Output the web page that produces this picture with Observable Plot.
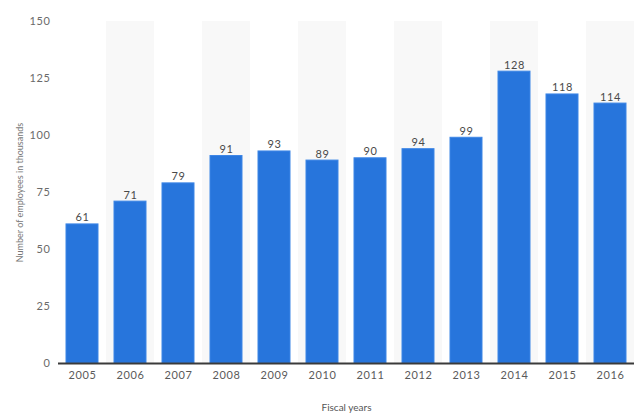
<!DOCTYPE html>
<html>
<head>
<meta charset="utf-8">
<script src="https://cdn.jsdelivr.net/npm/d3@7"></script>
<script src="https://cdn.jsdelivr.net/npm/@observablehq/plot@0.6"></script>
<style>
  html, body { margin: 0; padding: 0; background: #fff; }
  #chart svg { display: block; }
</style>
</head>
<body>
<div id="chart"></div>
<script>
const years = ["2005","2006","2007","2008","2009","2010","2011","2012","2013","2014","2015","2016"];
const employees = [61, 71, 79, 91, 93, 89, 90, 94, 99, 128, 118, 114];
const yTicks = [0, 25, 50, 75, 100, 125, 150];
const shadedYears = ["2006","2008","2010","2012","2014","2016"];

const data = years.map((y, i) => ({year: y, value: employees[i]}));
const font = "Lato, 'Open Sans', sans-serif";

const chart = Plot.plot({
  width: 640,
  height: 418,
  marginTop: 21,
  marginBottom: 55,
  marginLeft: 58,
  marginRight: 6,
  style: {fontFamily: font, fontSize: "11px", color: "#555", background: "#fff"},
  x: {domain: years, range: [50, 642], padding: 0.3333, round: false, label: null},
  y: {domain: [0, 150], label: null},
  marks: [
    Plot.barY(shadedYears, {x: d => d, y1: 0, y2: 150, fill: "#f8f8f8", insetLeft: -8, insetRight: -8}),
    Plot.ruleY(yTicks.filter(d => d > 0), {x1: 58, x2: 632, stroke: "#c8c8c8", strokeDasharray: "1,2", strokeWidth: 1}),
    Plot.barY(data, {x: "year", y: "value", fill: "#2775dc", stroke: "#3d86e6", strokeWidth: 1}),
    Plot.ruleY([0], {stroke: "#3a3a3a", strokeWidth: 1.8}),
    Plot.text(data, {x: "year", y: "value", text: d => String(d.value), lineAnchor: "bottom", dy: -3, fill: "#4a4a4a", fontSize: 11}),
    Plot.axisY({ticks: yTicks, tickSize: 0, tickPadding: 8, fill: "#6a6a6a", fontSize: 11,
      label: "Number of employees in thousands", labelAnchor: "center", labelArrow: "none", labelOffset: 42}),
    Plot.axisX({tickSize: 0, tickPadding: 8, fill: "#5a5a5a", fontSize: 11,
      label: "Fiscal years", labelAnchor: "center", labelArrow: "none", labelOffset: 47})
  ]
});

d3.select(chart).selectAll("g[aria-label='y-axis label'] text").style("font-size", "9px").attr("fill", "#777");
d3.select(chart).selectAll("g[aria-label='x-axis label'] text").style("font-size", "10px").attr("fill", "#555");
d3.select(chart).selectAll("g[aria-label='y-axis tick label'] text, g[aria-label='x-axis tick label'] text, g[aria-label='text'] text").style("letter-spacing", "0.6px");
document.getElementById("chart").appendChild(chart);
</script>
</body>
</html>
